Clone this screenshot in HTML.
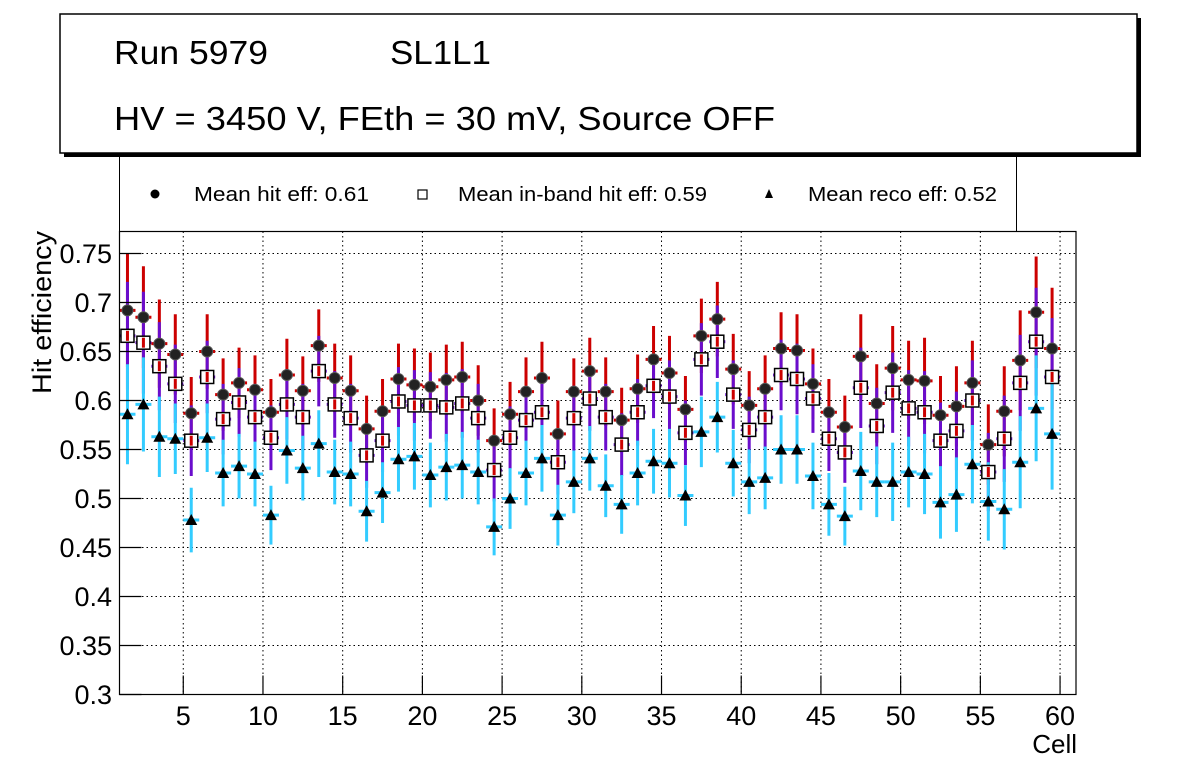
<!DOCTYPE html>
<html><head><meta charset="utf-8"><style>
html,body{margin:0;padding:0;background:#fff;}
svg{display:block;font-family:"Liberation Sans",Arial,sans-serif;}
</style></head><body>
<svg id="chart" width="1196" height="772" viewBox="0 0 1196 772" xmlns="http://www.w3.org/2000/svg">
<g>
<rect x="64" y="18" width="1077" height="139" fill="#000"/>
<rect x="60" y="14" width="1077" height="139" fill="#fff" stroke="#000" stroke-width="1.5"/>
<text x="114" y="64" font-size="33" textLength="154" lengthAdjust="spacingAndGlyphs">Run 5979</text>
<text x="390" y="64" font-size="33" textLength="101" lengthAdjust="spacingAndGlyphs">SL1L1</text>
<text x="114" y="130" font-size="33" textLength="661" lengthAdjust="spacingAndGlyphs">HV = 3450 V, FEth = 30 mV, Source OFF</text>
</g>
<g>
<line x1="119.5" y1="157" x2="119.5" y2="231" stroke="#000" stroke-width="1"/>
<line x1="1016.5" y1="157" x2="1016.5" y2="231" stroke="#000" stroke-width="1"/>
<g><circle cx="155" cy="194" r="4.5" fill="#000"/><text x="194" y="201" font-size="20" textLength="175" lengthAdjust="spacingAndGlyphs">Mean hit  eff: 0.61</text></g>
<g><rect x="418" y="190" width="9" height="9" fill="#fff" stroke="#000" stroke-width="1.2"/><text x="458" y="201" font-size="20" textLength="249" lengthAdjust="spacingAndGlyphs">Mean in-band hit eff: 0.59</text></g>
<g><polygon points="769,189 765,198 773,198" fill="#000"/><text x="808" y="201" font-size="20" textLength="189" lengthAdjust="spacingAndGlyphs">Mean reco eff: 0.52</text></g>
</g>
<g id="grid"></g>
<g id="marks"></g>
<rect x="119.5" y="231.5" width="956.5" height="463" fill="none" stroke="#000" stroke-width="1.2"/>
<g id="axes"></g>
<text x="1077" y="753" font-size="26" text-anchor="end">Cell</text>
<text transform="translate(51,231) rotate(-90)" font-size="27" text-anchor="end" textLength="163" lengthAdjust="spacingAndGlyphs">Hit efficiency</text>
</svg>
<script>
const hitEff=[0.692,0.685,0.658,0.647,0.587,0.650,0.606,0.618,0.611,0.588,0.626,0.610,0.656,0.623,0.610,0.571,0.589,0.622,0.616,0.614,0.621,0.624,0.600,0.559,0.586,0.609,0.623,0.566,0.609,0.630,0.609,0.580,0.612,0.642,0.628,0.591,0.666,0.683,0.632,0.595,0.612,0.653,0.651,0.617,0.588,0.573,0.645,0.597,0.633,0.621,0.620,0.585,0.594,0.618,0.555,0.589,0.641,0.690,0.653];
const hitErr=[0.058,0.052,0.045,0.041,0.037,0.038,0.037,0.036,0.035,0.034,0.037,0.035,0.037,0.035,0.036,0.034,0.033,0.036,0.037,0.035,0.036,0.036,0.036,0.033,0.033,0.035,0.037,0.034,0.034,0.034,0.035,0.033,0.035,0.034,0.038,0.034,0.038,0.038,0.036,0.035,0.034,0.037,0.037,0.036,0.034,0.032,0.043,0.040,0.043,0.040,0.044,0.040,0.041,0.043,0.041,0.046,0.051,0.057,0.062];
const inbandEff=[0.666,0.659,0.635,0.617,0.559,0.624,0.581,0.598,0.583,0.562,0.596,0.583,0.630,0.596,0.582,0.544,0.559,0.599,0.595,0.595,0.593,0.597,0.582,0.529,0.562,0.580,0.588,0.537,0.582,0.602,0.583,0.555,0.588,0.615,0.604,0.567,0.642,0.660,0.606,0.570,0.583,0.626,0.622,0.602,0.561,0.547,0.613,0.574,0.608,0.592,0.588,0.559,0.569,0.600,0.527,0.561,0.618,0.660,0.624];
const inbandErr=[0.055,0.052,0.045,0.040,0.036,0.037,0.036,0.035,0.034,0.033,0.036,0.034,0.036,0.034,0.035,0.033,0.032,0.035,0.036,0.034,0.035,0.035,0.035,0.032,0.032,0.034,0.036,0.033,0.033,0.033,0.034,0.032,0.034,0.033,0.037,0.033,0.037,0.037,0.035,0.034,0.033,0.036,0.036,0.035,0.033,0.031,0.041,0.039,0.041,0.039,0.042,0.039,0.040,0.041,0.040,0.044,0.049,0.055,0.060];
const recoEff=[0.586,0.596,0.563,0.561,0.478,0.562,0.526,0.533,0.525,0.483,0.549,0.531,0.556,0.527,0.525,0.487,0.506,0.540,0.543,0.524,0.532,0.534,0.527,0.471,0.500,0.526,0.541,0.483,0.517,0.541,0.513,0.494,0.526,0.538,0.536,0.503,0.568,0.583,0.536,0.517,0.521,0.550,0.550,0.523,0.494,0.482,0.528,0.517,0.517,0.527,0.525,0.496,0.504,0.535,0.497,0.489,0.537,0.592,0.566];
const recoErr=[0.051,0.048,0.041,0.036,0.033,0.035,0.034,0.033,0.033,0.030,0.034,0.033,0.034,0.033,0.033,0.031,0.031,0.033,0.034,0.033,0.034,0.034,0.033,0.029,0.031,0.033,0.034,0.031,0.032,0.033,0.032,0.030,0.033,0.033,0.035,0.031,0.036,0.036,0.034,0.033,0.032,0.035,0.035,0.034,0.032,0.030,0.040,0.036,0.040,0.036,0.041,0.037,0.038,0.040,0.040,0.041,0.047,0.054,0.057];
const yTicks=[0.3,0.35,0.4,0.45,0.5,0.55,0.6,0.65,0.7,0.75];
const yTickLabels=["0.3","0.35","0.4","0.45","0.5","0.55","0.6","0.65","0.7","0.75"];
const xTicks=[5,10,15,20,25,30,35,40,45,50,55,60];
const xTickLabels=["5","10","15","20","25","30","35","40","45","50","55","60"];

const X0=119.5, X1=1076, XMIN=1, XMAX=61, Y0=694.5, YMIN=0.3, YPX=980;
function xs(v){return X0+(v-XMIN)*(X1-X0)/(XMAX-XMIN);}
function ys(v){return Y0-(v-YMIN)*YPX;}
const NS="http://www.w3.org/2000/svg";
function mk(tag,attrs,parent){const e=document.createElementNS(NS,tag);for(const k in attrs)e.setAttribute(k,attrs[k]);parent.appendChild(e);return e;}
const grid=document.getElementById('grid'),marks=document.getElementById('marks'),axes=document.getElementById('axes');

yTicks.forEach((t,i)=>{
  const y=ys(t);
  if(i>0){const g=mk('line',{x1:X0,x2:X1,y1:y,y2:y,stroke:'#000','stroke-width':1,'stroke-dasharray':'1.5,3'},grid);
  
  }
  const tk=mk('line',{x1:X0,x2:X0+22,y1:y,y2:y,stroke:'#000','stroke-width':1.2},axes);
  
  
  const tx=mk('text',{x:112,y:y+9.5,'font-size':27,'text-anchor':'end'},axes);
  tx.textContent=yTickLabels[i];
  
  
});
xTicks.forEach((t,i)=>{
  const x=xs(t);
  const g=mk('line',{x1:x,x2:x,y1:231.5,y2:Y0,stroke:'#000','stroke-width':1,'stroke-dasharray':'1.5,3'},grid);
  
  
  const tk=mk('line',{x1:x,x2:x,y1:Y0,y2:Y0-19,stroke:'#000','stroke-width':1.2},axes);
  
  
  const tx=mk('text',{x:x,y:725,'font-size':27,'text-anchor':'middle'},axes);
  tx.textContent=xTickLabels[i];
  
  
});

const series=[[hitEff,hitErr,'#cc0000'],[inbandEff,inbandErr,'#6a0dcc'],[recoEff,recoErr,'#33ccff']];
series.forEach(([v,e,c])=>{
  v.forEach((val,i)=>{
    const x=xs(i+1.5);
    const l=mk('line',{x1:x,x2:x,y1:ys(val+e[i]),y2:ys(val-e[i]),stroke:c,'stroke-width':3},marks);
    
    
  });
});
series.forEach(([v,e,c])=>{
  v.forEach((val,i)=>{
    const x=xs(i+1.5),y=ys(val);
    const l=mk('line',{x1:x-8,x2:x+8,y1:y,y2:y,stroke:c,'stroke-width':3},marks);
    
    
  });
});
hitEff.forEach((val,i)=>{
  const m=mk('circle',{cx:xs(i+1.5),cy:ys(val),r:5.5,fill:'#222',stroke:'#555','stroke-width':1},marks);
  
  
});
inbandEff.forEach((val,i)=>{
  const x=xs(i+1.5),y=ys(val);
  const m=mk('rect',{x:x-6.5,y:y-6.5,width:13,height:13,fill:'#fff',stroke:'#000','stroke-width':1.5},marks);
  
  
  const l=mk('line',{x1:x,x2:x,y1:y-5,y2:y+5,stroke:'#cc0000','stroke-width':3},marks);
  
  
});
recoEff.forEach((val,i)=>{
  const x=xs(i+1.5),y=ys(val);
  const m=mk('polygon',{points:`${x},${y-6} ${x-6},${y+5} ${x+6},${y+5}`,fill:'#000'},marks);
  
  
});
</script>
</body></html>
